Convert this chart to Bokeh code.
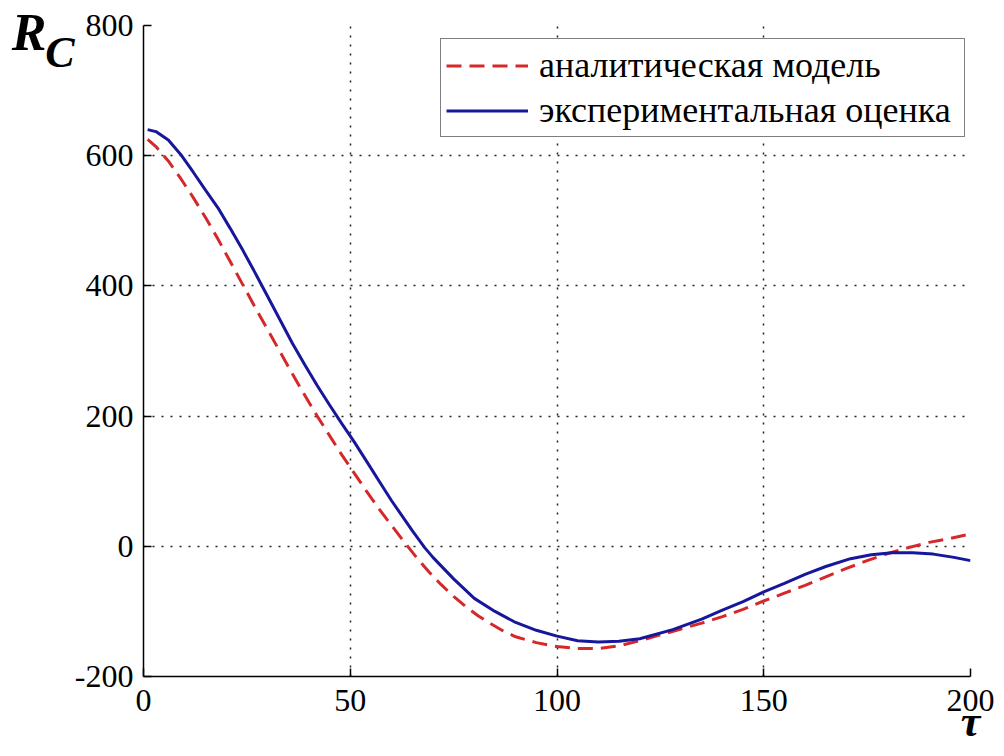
from bokeh.plotting import figure
from bokeh.models import Range1d, FixedTicker, Legend, LegendItem, LinearAxis
from bokeh.embed import file_html
from bokeh.resources import INLINE

# experimental estimate (blue)
tau_exp = [1, 3, 6, 9, 12, 15, 18, 21, 24, 27, 30, 33, 36, 39, 42, 45, 48, 51, 54, 57, 60,
           65, 68, 70, 75, 80, 85, 90, 95, 100, 105, 110, 115, 120, 128, 135, 140, 145,
           150, 155, 160, 165, 171, 176, 181, 186, 191, 196, 200]
r_exp = [640, 637, 624, 602, 575, 547, 520, 488, 455, 420, 384, 348, 312, 279, 247, 217,
         188, 160, 130, 100, 70, 24, -2, -17, -50, -80, -100, -117, -129, -138, -145, -147,
         -146, -142, -128, -112, -98, -85, -70, -57, -43, -31, -19, -13, -10, -10, -12, -17,
         -22]

# analytic model (red dashed)
tau_mod = [1, 3, 6, 9, 12, 15, 18, 21, 24, 27, 30, 33, 36, 39, 42, 45, 48, 51, 54, 57, 60,
           63, 66, 69, 72, 75, 78, 81, 84, 87, 90, 95, 100, 105, 110, 115, 120, 125, 130,
           135, 140, 145, 150, 155, 160, 165, 170, 175, 180, 185, 190, 195, 200]
r_mod = [625, 614, 592, 565, 536, 505, 472, 437, 402, 367, 333, 299, 265, 232, 200, 170,
         140, 112, 84, 57, 32, 7, -17, -39, -59, -77, -93, -107, -119, -130, -139, -148,
         -154, -157, -157, -153, -145, -136, -127, -118, -108, -97, -84, -72, -60, -47, -34,
         -22, -11, -2, 6, 12, 19]

x_ticks = [0, 50, 100, 150, 200]
y_ticks = [-200, 0, 200, 400, 600, 800]
y_tick_text = {-200: "-200"}
label_model = "аналитическая модель"
label_exp = "экспериментальная оценка"
y_title_main = "R"
y_title_sub = "C"
x_title = "τ"

SERIF = "Liberation Serif"
RED = "#d62828"
BLUE = "#17179c"

p = figure(frame_width=827, frame_height=651, output_backend="svg", toolbar_location=None,
           x_range=Range1d(0, 200), y_range=Range1d(-200, 800),
           min_border_left=143, min_border_right=26, min_border_top=25,
           min_border_bottom=40)
p.outline_line_color = None
p.background_fill_color = "white"
p.border_fill_color = "white"

for ax, ticks in ((p.xaxis[0], x_ticks), (p.yaxis[0], y_ticks)):
    ax.ticker = FixedTicker(ticks=ticks)
    ax.minor_tick_line_color = None
    ax.major_tick_in = 8
    ax.major_tick_out = 0
    ax.major_tick_line_width = 1.5
    ax.axis_line_width = 1.5
    ax.axis_line_color = "black"
    ax.major_tick_line_color = "black"
    ax.major_label_text_font = SERIF
    ax.major_label_text_font_size = "32px"
    ax.major_label_text_color = "black"
p.xaxis[0].major_label_standoff = 13
p.yaxis[0].major_label_standoff = 10
p.yaxis[0].major_label_overrides = y_tick_text

p.xgrid.ticker = FixedTicker(ticks=x_ticks)
p.ygrid.ticker = FixedTicker(ticks=y_ticks)
for g in (p.xgrid, p.ygrid):
    g.grid_line_color = "#222222"
    g.grid_line_dash = "2 7"
    g.grid_line_width = 1.5


def title_axis(tick, text, size, standoff):
    ax = LinearAxis(ticker=FixedTicker(ticks=[tick]), major_label_overrides={tick: text})
    ax.axis_line_color = None
    ax.major_tick_line_color = None
    ax.minor_tick_line_color = None
    ax.major_tick_in = 0
    ax.major_tick_out = 0
    ax.major_label_standoff = standoff
    ax.major_label_text_font = SERIF
    ax.major_label_text_font_size = size
    ax.major_label_text_font_style = "bold italic"
    ax.major_label_text_color = "black"
    return ax


# axis titles: R with subscript C at the top left, tau under the last x tick
p.add_layout(title_axis(758, y_title_sub, "44px", -3), "left")
p.add_layout(title_axis(789, y_title_main, "52px", -4), "left")
p.add_layout(title_axis(200, x_title, "44px", -17), "below")

r1 = p.line(tau_mod, r_mod, line_color=RED, line_width=3, line_dash="15 8")
r2 = p.line(tau_exp, r_exp, line_color=BLUE, line_width=3)

legend = Legend(items=[LegendItem(label=label_model, renderers=[r1]),
                       LegendItem(label=label_exp, renderers=[r2])],
                location=(297, 539), orientation="vertical",
                label_text_font=SERIF, label_text_font_size="36px",
                label_text_color="black", glyph_width=82, glyph_height=41,
                label_height=41, label_width=420, label_standoff=11, spacing=3,
                padding=5, margin=0, border_line_color="black", border_line_width=1.5,
                background_fill_alpha=1.0, background_fill_color="white")
p.add_layout(legend, "center")

open("out.html", "w").write(file_html(p, INLINE))
